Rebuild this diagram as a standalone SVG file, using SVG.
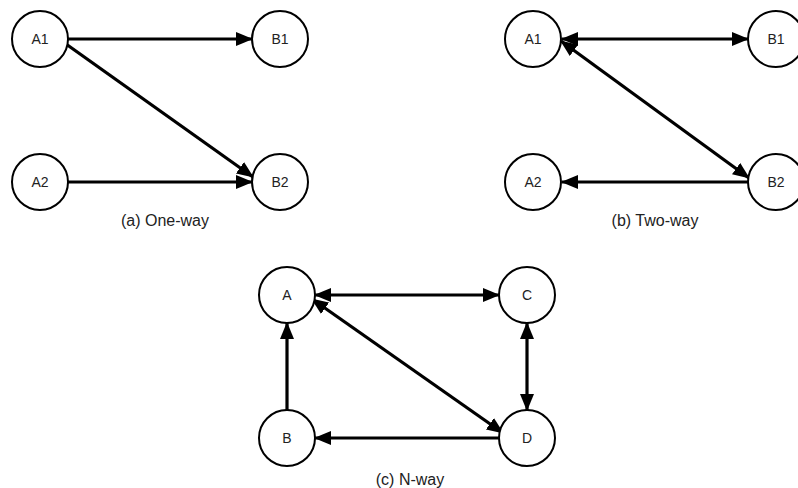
<svg xmlns="http://www.w3.org/2000/svg" width="798" height="488" viewBox="0 0 798 488">
<style>
.node circle{fill:#fff;stroke:#000;stroke-width:2}
.node text{font-family:"Liberation Sans",Arial,sans-serif;font-size:14px;text-anchor:middle;fill:#222}
.edge{stroke:#000;stroke-width:3.2;fill:none}
.cap{font-family:"Liberation Sans",Arial,sans-serif;font-size:16px;text-anchor:middle;fill:#222}
</style>
<defs>
<marker id="ah" markerUnits="userSpaceOnUse" markerWidth="17" markerHeight="14" refX="16" refY="7" orient="auto-start-reverse" viewBox="0 0 17 14">
<path d="M0,0 L17,7 L0,14 z" fill="#000"/>
</marker>
</defs>
<g id="connectors">
<line class="edge" x1="68" y1="39" x2="252" y2="39" marker-end="url(#ah)"/>
<line class="edge" x1="66" y1="44" x2="253" y2="177" marker-end="url(#ah)"/>
<line class="edge" x1="68" y1="182" x2="252" y2="182" marker-end="url(#ah)"/>
<line class="edge" x1="562" y1="39" x2="748" y2="39" marker-start="url(#ah)" marker-end="url(#ah)"/>
<line class="edge" x1="561" y1="41" x2="749" y2="178" marker-start="url(#ah)" marker-end="url(#ah)"/>
<line class="edge" x1="748" y1="182" x2="562" y2="182" marker-end="url(#ah)"/>
<line class="edge" x1="315" y1="295" x2="499" y2="295" marker-start="url(#ah)" marker-end="url(#ah)"/>
<line class="edge" x1="312" y1="299" x2="503" y2="433" marker-start="url(#ah)" marker-end="url(#ah)"/>
<line class="edge" x1="527" y1="323" x2="527" y2="410" marker-start="url(#ah)" marker-end="url(#ah)"/>
<line class="edge" x1="499" y1="438" x2="315" y2="438" marker-end="url(#ah)"/>
<line class="edge" x1="287" y1="410" x2="287" y2="323" marker-end="url(#ah)"/>
</g>
<g id="a-A1" class="node"><circle cx="40" cy="39" r="28"/><text x="40" y="44">A1</text></g>
<g id="a-B1" class="node"><circle cx="280" cy="39" r="28"/><text x="280" y="44">B1</text></g>
<g id="a-A2" class="node"><circle cx="40" cy="182" r="28"/><text x="40" y="187">A2</text></g>
<g id="a-B2" class="node"><circle cx="280" cy="182" r="28"/><text x="280" y="187">B2</text></g>
<g id="b-A1" class="node"><circle cx="533" cy="39" r="28"/><text x="533" y="44">A1</text></g>
<g id="b-B1" class="node"><circle cx="776" cy="39" r="28"/><text x="776" y="44">B1</text></g>
<g id="b-A2" class="node"><circle cx="533" cy="182" r="28"/><text x="533" y="187">A2</text></g>
<g id="b-B2" class="node"><circle cx="776" cy="182" r="28"/><text x="776" y="187">B2</text></g>
<g id="c-A" class="node"><circle cx="287" cy="295" r="28"/><text x="287" y="300">A</text></g>
<g id="c-C" class="node"><circle cx="527" cy="295" r="28"/><text x="527" y="300">C</text></g>
<g id="c-B" class="node"><circle cx="287" cy="438" r="28"/><text x="287" y="443">B</text></g>
<g id="c-D" class="node"><circle cx="527" cy="438" r="28"/><text x="527" y="443">D</text></g>
<text class="cap" x="165" y="226">(a) One-way</text>
<text class="cap" x="655" y="226">(b) Two-way</text>
<text class="cap" x="410" y="485">(c) N-way</text>
</svg>
